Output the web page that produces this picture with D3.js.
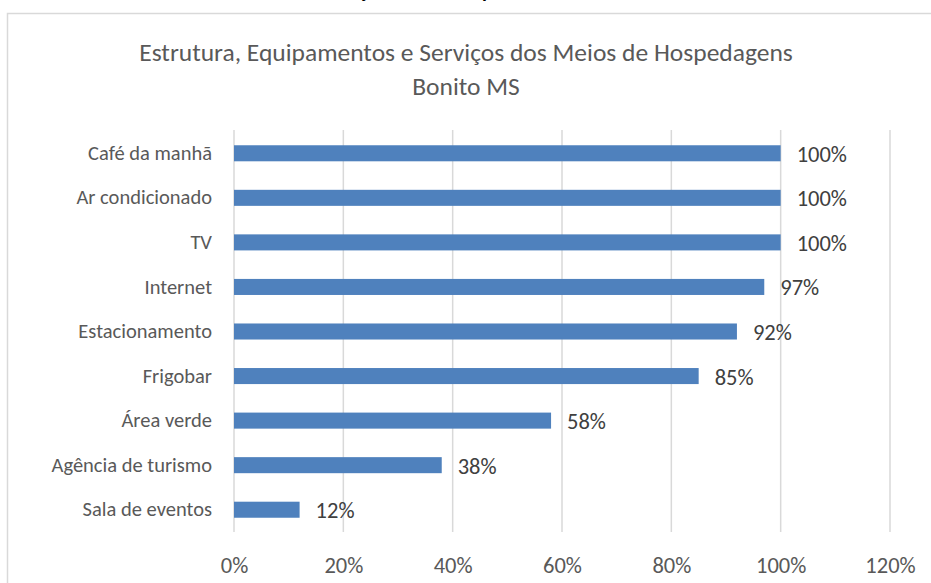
<!DOCTYPE html>
<html><head><meta charset="utf-8">
<script src="https://cdn.jsdelivr.net/npm/d3@7"></script>
<style>
html,body{margin:0;padding:0;background:#fff;overflow:hidden}
svg{display:block}
text{font-family:Carlito,Calibri,Lato,sans-serif}
</style></head><body>
<svg id="c" width="931" height="583"></svg>
<script>
const categories = ["Café da manhã","Ar condicionado","TV","Internet","Estacionamento","Frigobar","Área verde","Agência de turismo","Sala de eventos"];
const values = [100,100,100,97,92,85,58,38,12];
const ticks = [0,20,40,60,80,100,120];
const titleLines = ["Estrutura, Equipamentos e Serviços dos Meios de Hospedagens","Bonito MS"];

const svg = d3.select("#c");
const W = 931, H = 583;
const m = {left:234, right:890, top:131, bottom:532};
const FF = "Carlito,Calibri,Lato,sans-serif";

// outer chart box (extends beyond viewport)
svg.append("rect").attr("x",7.5).attr("y",13.5).attr("width",W+20).attr("height",H+20)
  .attr("fill","#fff").attr("stroke","#d9d9d9").attr("stroke-width",1.5);

// cut-off document heading fragments above chart
svg.append("text").attr("x",359).attr("y",-2).attr("font-weight","bold").attr("font-size",20).attr("fill","#000").text("ç");
svg.append("text").attr("x",482).attr("y",-2).attr("font-weight","bold").attr("font-size",20).attr("fill","#000").text("p");

const x = d3.scaleLinear().domain([0,120]).range([m.left,m.right]);
const y = d3.scaleBand().domain(categories).range([m.top,m.bottom]).paddingInner(0.64).paddingOuter(0.32);

// gridlines
svg.append("g").selectAll("line").data(ticks).join("line")
  .attr("x1",d=>x(d)).attr("x2",d=>x(d)).attr("y1",m.top-1).attr("y2",m.bottom)
  .attr("stroke","#d9d9d9").attr("stroke-width",1.5);

// x axis tick labels
const xAxis = d3.axisBottom(x).tickValues(ticks).tickFormat(d=>d+"%").tickSize(0).tickPadding(0);
const gx = svg.append("g").attr("transform",`translate(0,${m.bottom})`).call(xAxis);
gx.select(".domain").remove();
gx.selectAll("text").attr("font-size",22.5).attr("fill","#595959").attr("dy",0).attr("y",41)
  .style("font-family",FF);

// y axis labels
const yAxis = d3.axisLeft(y).tickSize(0).tickPadding(22);
const gy = svg.append("g").attr("transform",`translate(${m.left},0)`).call(yAxis);
gy.select(".domain").remove();
gy.selectAll("text").attr("font-size",20.5).attr("fill","#595959")
  .style("font-family",FF);

// bars
const data = categories.map((c,i)=>({c, v:values[i]}));
svg.append("g").selectAll("rect").data(data).join("rect")
  .attr("x",x(0)).attr("y",d=>y(d.c)).attr("width",d=>x(d.v)-x(0)).attr("height",y.bandwidth())
  .attr("fill","#4f81bd");

// value labels
svg.append("g").selectAll("text").data(data).join("text")
  .attr("x",d=>x(d.v)+16).attr("y",d=>y(d.c)+y.bandwidth()/2).attr("dy","0.38em")
  .attr("font-size",22.5).attr("fill","#404040").text(d=>d.v+"%");

// title
svg.append("g").selectAll("text").data(titleLines).join("text")
  .attr("x",466).attr("y",(d,i)=>52+i*34).attr("dy","0.35em").attr("text-anchor","middle")
  .attr("font-size",25.5).attr("fill","#595959").text(d=>d);
</script>
</body></html>
